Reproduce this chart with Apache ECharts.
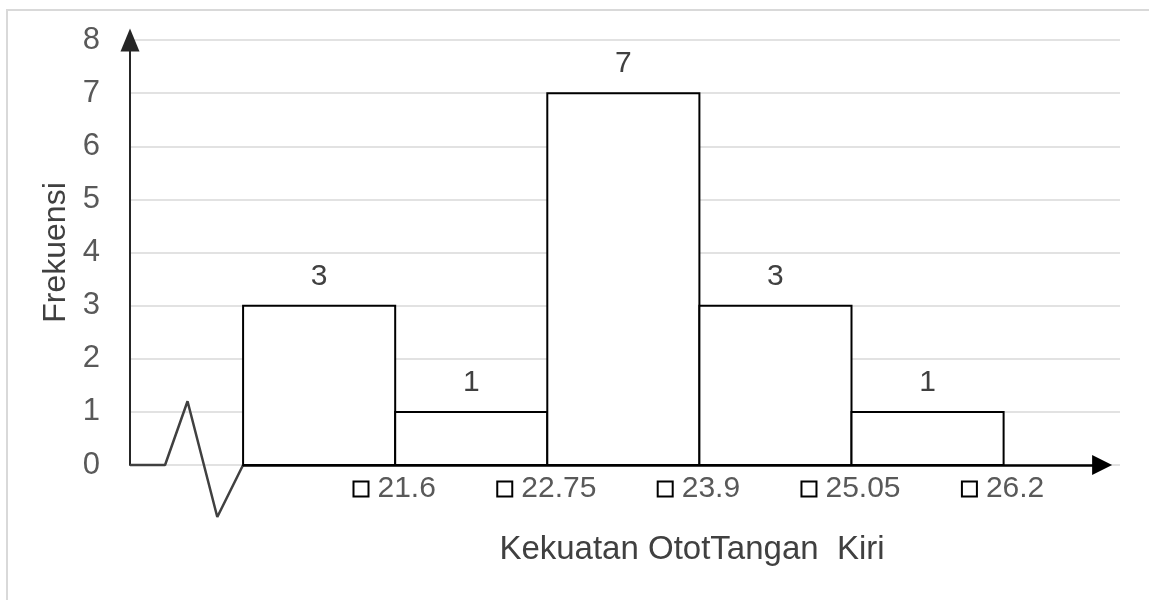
<!DOCTYPE html>
<html>
<head>
<meta charset="utf-8">
<title>Kekuatan Otot Tangan Kiri</title>
<script src="https://cdn.jsdelivr.net/npm/echarts@6/dist/echarts.min.js"></script>
<style>
  html, body { margin: 0; padding: 0; background: #ffffff; }
  #chart { width: 1149px; height: 600px; }
</style>
</head>
<body>
<div id="chart"></div>
<script>
// Class intervals (lower / upper boundaries) and their frequencies
const lowerBounds = [20.45, 21.6, 22.75, 23.9, 25.05];
const upperBounds = [21.6, 22.75, 23.9, 25.05, 26.2];
const frequencies = [3, 1, 7, 3, 1];
// Labels written under the upper boundary of each class
const tickLabels = ['21.6', '22.75', '23.9', '25.05', '26.2'];

// Axis-break zigzag drawn between the origin and the first class
const breakMark = [[19.595, 0], [19.86, 0], [20.03, 1.2], [20.255, -0.98], [20.45, 0]];

const FONT = '"Liberation Sans", Arial, sans-serif';
const xMin = 19.595, xMax = 27.08, xArrowEnd = 26.945;

const chart = echarts.init(document.getElementById('chart'), null, { renderer: 'canvas' });

const barData = lowerBounds.map((lo, i) => [lo, upperBounds[i], frequencies[i]]);

const option = {
  backgroundColor: '#ffffff',
  animation: false,
  textStyle: { fontFamily: FONT },
  graphic: [{
    type: 'rect',
    shape: { x: 7, y: 10, width: 1300, height: 800 },
    style: { fill: 'none', stroke: '#d9d9d9', lineWidth: 2 },
    silent: true,
    z: -10
  }],
  grid: { left: 130, right: 29, top: 40, bottom: 135, containLabel: false },
  xAxis: {
    type: 'value',
    min: xMin,
    max: xMax,
    name: 'Kekuatan OtotTangan  Kiri',
    nameLocation: 'middle',
    nameGap: 68,
    nameTextStyle: { fontSize: 33, color: '#404040', fontFamily: FONT, padding: [0, 0, 0, 134] },
    axisLine: { show: false },
    axisTick: { show: false },
    splitLine: { show: false },
    axisLabel: {
      customValues: upperBounds,
      margin: 9,
      formatter: function (val) {
        const i = upperBounds.indexOf(val);
        return '{b|}{s|}' + (i >= 0 ? tickLabels[i] : '');
      },
      color: '#595959',
      fontSize: 30,
      fontFamily: FONT,
      rich: {
        b: { width: 13, height: 13, borderColor: '#000', borderWidth: 2, backgroundColor: '#fff' },
        s: { width: 10 }
      }
    }
  },
  yAxis: {
    type: 'value',
    min: 0,
    max: 8,
    interval: 1,
    name: 'Frekuensi',
    nameLocation: 'middle',
    nameGap: 57,
    nameRotate: 90,
    nameTextStyle: { fontSize: 32, color: '#404040', fontFamily: FONT },
    axisLine: {
      show: true,
      symbol: ['none', 'triangle'],
      symbolSize: [19, 23],
      lineStyle: { color: '#262626', width: 2 }
    },
    axisTick: { show: false },
    axisLabel: { color: '#595959', fontSize: 31, fontFamily: FONT, margin: 30 },
    splitLine: { show: true, lineStyle: { color: '#d9d9d9', width: 1.5 } }
  },
  series: [
    {
      // horizontal axis line with its arrow head
      type: 'line',
      data: [],
      silent: true,
      z: 3,
      markLine: {
        silent: true,
        animation: false,
        symbol: ['none', 'triangle'],
        symbolSize: [20, 20],
        label: { show: false },
        lineStyle: { color: '#000', width: 2.5, type: 'solid' },
        data: [[{ coord: [lowerBounds[0], 0] }, { coord: [xArrowEnd, 0] }]]
      }
    },
    {
      type: 'line',
      data: breakMark,
      symbol: 'none',
      clip: false,
      silent: true,
      z: 3,
      lineStyle: { color: '#404040', width: 2.5 }
    },
    {
      type: 'custom',
      data: barData,
      z: 4,
      clip: false,
      renderItem: function (params, api) {
        const lo = api.value(0), hi = api.value(1), f = api.value(2);
        const topLeft = api.coord([lo, f]);
        const bottomRight = api.coord([hi, 0]);
        return {
          type: 'group',
          children: [
            {
              type: 'rect',
              shape: {
                x: topLeft[0], y: topLeft[1],
                width: bottomRight[0] - topLeft[0],
                height: bottomRight[1] - topLeft[1]
              },
              style: { fill: '#ffffff', stroke: '#000000', lineWidth: 2 }
            },
            {
              type: 'text',
              x: (topLeft[0] + bottomRight[0]) / 2,
              y: topLeft[1] - 29,
              style: {
                text: String(f),
                fill: '#404040',
                font: '30px ' + FONT,
                align: 'center',
                verticalAlign: 'middle'
              }
            }
          ]
        };
      }
    }
  ]
};

chart.setOption(option);
</script>
</body>
</html>
